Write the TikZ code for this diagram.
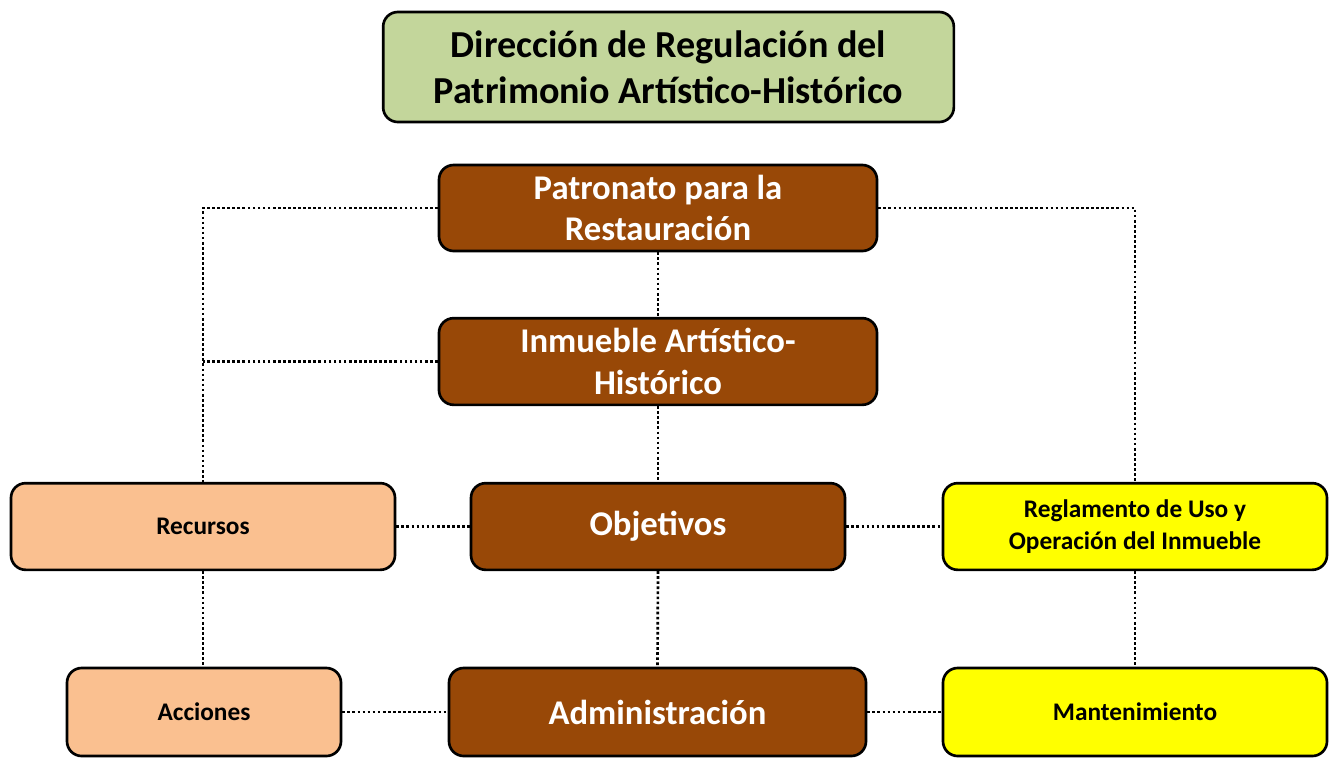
\documentclass[tikz,border=0pt]{standalone}
\usepackage{fontspec}
\setmainfont{Carlito}
\definecolor{cafe}{HTML}{984807}
\definecolor{durazno}{HTML}{FAC090}
\definecolor{olivo}{HTML}{C3D69B}
\definecolor{amarillo}{HTML}{FFFF00}
\tikzset{
	caja/.style = {draw = black, line width = 2pt, rounded corners = 11pt, align = center, font = \bfseries, inner sep = 2pt},
	cafecaja/.style = {caja, fill = cafe, text = white, font = \fontsize{26}{31}\selectfont\bfseries},
	chica/.style = {caja, text = black, font = \fontsize{19}{24}\selectfont\bfseries},
	punteada/.style = {line width = 2pt, dash pattern = on 2pt off 1.8pt}
}
\begin{document}
\begin{tikzpicture}[x = 0.75pt, y = -0.75pt]
			\useasboundingbox (0,0) rectangle (1335,757);
			\node[caja, fill = olivo, minimum width = 428pt, minimum height = 82.5pt, font = \fontsize{28.6}{34.5}\selectfont\bfseries] (dir) at (668.5,67) {Dirección de Regulación del\\Patrimonio Artístico-Histórico};
			\node[cafecaja, minimum width = 328.5pt, minimum height = 64.5pt] (pat) at (658,208) {Patronato para la\\Restauración};
			\node[cafecaja, minimum width = 328.5pt, minimum height = 65pt] (inm) at (658,361.5) {Inmueble Artístico-\\Histórico};
			\node[cafecaja, minimum width = 280.5pt, minimum height = 65pt] (obj) at (658,526.5) {Objetivos};
			\node[cafecaja, minimum width = 312.75pt, minimum height = 66pt] (adm) at (657.5,712) {Administración};
			\node[chica, fill = durazno, minimum width = 288pt, minimum height = 65pt] (rec) at (203,526.5) {Recursos};
			\node[chica, fill = durazno, minimum width = 205.5pt, minimum height = 66pt] (acc) at (204,712) {Acciones};
			\node[chica, fill = amarillo, minimum width = 288pt, minimum height = 65pt] (reg) at (1135,526.5) {Reglamento de Uso y\\Operación del Inmueble};
			\node[chica, fill = amarillo, minimum width = 288pt, minimum height = 66pt] (man) at (1135,712) {Mantenimiento};

			\draw[punteada] (pat.west) -| (rec.north);
			\draw[punteada] (pat.east) -| (reg.north);
			\draw[punteada] (inm.west) -- (inm.west -| rec.north);
			\draw[punteada] (pat.south) -- (inm.north);
			\draw[punteada] (inm.south) -- (obj.north);
			\draw[punteada] (obj.south) -- (adm.north);
			\draw[punteada] (rec.east) -- (obj.west);
			\draw[punteada] (obj.east) -- (reg.west);
			\draw[punteada] (rec.south) -- (rec.south |- acc.north);
			\draw[punteada] (reg.south) -- (man.north);
			\draw[punteada] (acc.east) -- (adm.west);
			\draw[punteada] (adm.east) -- (man.west);
		\end{tikzpicture}
\end{document}
